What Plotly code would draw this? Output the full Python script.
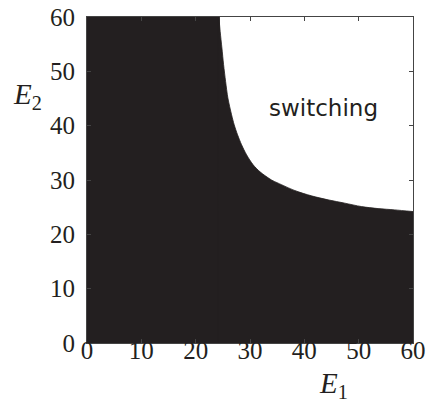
import plotly.graph_objects as go

# Boundary of the black (non-switching) region
E1_boundary = [24.27, 24.51, 24.83, 25.14, 25.51, 25.93, 26.61, 27.09, 27.71, 28.45, 29.37,
               30.58, 31.85, 33.96, 35.18, 38.25, 41.32, 44.37, 47.44, 50.51, 53.57, 56.64, 60]
E2_boundary = [60, 57.35, 54.29, 51.22, 48.14, 45.08, 42.0, 40.16, 38.32, 36.48, 34.64,
               32.79, 31.5, 30.0, 29.42, 28.06, 27.08, 26.35, 25.74, 25.11, 24.74, 24.5, 24.19]
E1_min, E2_min, E2_max = 0, 0, 60

tick_vals = [0, 10, 20, 30, 40, 50, 60]
tick_text = ["0", "10", "20", "30", "40", "50", "60"]
region_label = "switching"
x_title = "<i>E</i><sub>1</sub>"
y_title = "<i>E</i><sub>2</sub>"

fill_color = "#231f20"
serif = "Liberation Serif"

fig = go.Figure()
# left block, fully black
fig.add_shape(type="rect", xref="x", yref="y",
              x0=E1_min, x1=E1_boundary[0], y0=E2_min, y1=E2_max,
              fillcolor=fill_color, line=dict(color=fill_color, width=2), layer="below")
# region below the boundary curve
fig.add_trace(go.Scatter(
    x=E1_boundary, y=E2_boundary, mode="lines", fill="tozeroy",
    fillcolor=fill_color, line=dict(color=fill_color, width=0.8, shape="spline", smoothing=0.8),
    hoverinfo="skip", showlegend=False,
))

axis_common = dict(
    range=[0, 60], tickvals=tick_vals, ticktext=tick_text,
    ticks="inside", ticklen=4, tickcolor="#444", tickwidth=1,
    showline=True, linecolor="#444", linewidth=1, mirror="ticks",
    showgrid=False, zeroline=False, automargin=False,
    tickfont=dict(family=serif, size=25, color="#231f20"),
)
fig.update_xaxes(**axis_common, ticklabelstandoff=-15)
fig.update_yaxes(**axis_common, ticklabelstandoff=6)

fig.add_annotation(x=43.6, y=43.3, xref="x", yref="y", text=region_label,
                   showarrow=False, font=dict(family="DejaVu Sans", size=23, color="#231f20"))
fig.add_annotation(x=0.807, y=-0.19, xref="paper", yref="paper", text=x_title,
                   showarrow=False, font=dict(family=serif, size=29, color="#231f20"))
fig.add_annotation(x=-0.233, y=0.819, xref="paper", yref="paper", text=y_title,
                   showarrow=False, font=dict(family=serif, size=29, color="#231f20"))

fig.update_layout(
    width=432, height=403,
    margin=dict(l=87, r=19, t=17, b=60),
    paper_bgcolor="white", plot_bgcolor="white",
)

fig.write_html("out.html", config={"displayModeBar": False},
               post_script="document.body.style.margin='0';")
